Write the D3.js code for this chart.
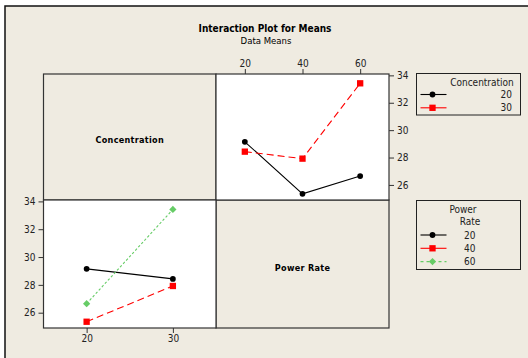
<!DOCTYPE html>
<html><head><meta charset="utf-8">
<script src="https://cdn.jsdelivr.net/npm/d3@7/dist/d3.min.js"></script>
<style>body{margin:0;background:#fff}svg{display:block}</style>
</head><body><svg id="c" width="528" height="358"></svg>
<script>
// ---- data ----
const concentration = [20, 30];
const powerRate = [20, 40, 60];
// cell means: rows = concentration, columns = power rate
const meansConc20 = [29.15, 25.35, 26.65];
const meansConc30 = [28.43, 27.92, 33.42];
const yTicks = [26, 28, 30, 32, 34];
const title = "Interaction Plot for Means";
const subtitle = "Data Means";

const means = [meansConc20, meansConc30];
const BG = "#efebe1", FONT = "'DejaVu Sans Condensed','DejaVu Sans',sans-serif";
const concStyle = [
  {color:"#000", dash:null, shape:"circle"},
  {color:"#ff0000", dash:"7,4", shape:"square"}];
const powerStyle = [
  {color:"#000", dash:null, shape:"circle"},
  {color:"#ff0000", dash:"7,4", shape:"square"},
  {color:"#66cc66", dash:"2.5,2", shape:"diamond"}];

const svg = d3.select("#c").style("font-family", FONT);
svg.append("rect").attr("x",5).attr("y",6).attr("width",540).attr("height",370)
  .attr("fill",BG).attr("stroke","#111").attr("stroke-width",1.5);

svg.append("text").attr("x",265).attr("y",32).attr("text-anchor","middle")
  .attr("font-size",10).attr("font-weight","bold").text(title);
svg.append("text").attr("x",266).attr("y",44).attr("text-anchor","middle")
  .attr("font-size",9.5).text(subtitle);

const X0=43.5, XM=216, X1=389, Y0=74, YM=200, Y1=328;

function symbol(g, shape, color, x, y){
  const t = shape==="circle"?d3.symbolCircle:d3.symbolSquare;
  const size = shape==="circle"?26:shape==="square"?40:26;
  g.append("path").attr("d", d3.symbol(t, size)())
    .attr("transform",`translate(${x},${y})` + (shape==="diamond"?" rotate(45)":""))
    .attr("fill",color);
}

// panels
function cell(x,y,w,h,fill){
  svg.append("rect").attr("x",x).attr("y",y).attr("width",w).attr("height",h)
    .attr("fill",fill).attr("stroke","#333").attr("stroke-width",1.2);
}
cell(X0,Y0,XM-X0,YM-Y0,BG);
cell(XM,YM,X1-XM,Y1-YM,BG);
cell(XM,Y0,X1-XM,YM-Y0,"#fff");
cell(X0,YM,XM-X0,Y1-YM,"#fff");
svg.append("text").attr("x",(X0+XM)/2).attr("y",(Y0+YM)/2+6).attr("text-anchor","middle")
  .attr("font-size",9).attr("font-weight","bold").attr("letter-spacing",0.3).text("Concentration");
svg.append("text").attr("x",(XM+X1)/2).attr("y",(YM+Y1)/2+7).attr("text-anchor","middle")
  .attr("font-size",9).attr("font-weight","bold").attr("letter-spacing",0.3).text("Power Rate");

const yDom = [24.9, 34.1];
// top-right: response vs power rate, lines by concentration
const xP = d3.scaleLinear().domain([10,70]).range([XM,X1]);
const yT = d3.scaleLinear().domain(yDom).range([YM,Y0]);
// bottom-left: response vs concentration, lines by power rate
const xC = d3.scaleLinear().domain([15,35]).range([X0,XM]);
const yB = d3.scaleLinear().domain(yDom).range([Y1,YM]);

function styleAxis(g){
  g.select(".domain").remove();
  g.selectAll("text").attr("font-size",10).attr("fill","#222").style("font-family",FONT);
  g.selectAll("line").attr("stroke","#333");
}
svg.append("g").attr("transform",`translate(0,${Y0})`)
  .call(d3.axisTop(xP).tickValues(powerRate).tickSize(5).tickPadding(2)).call(styleAxis);
svg.append("g").attr("transform",`translate(${X1},0)`)
  .call(d3.axisRight(yT).tickValues(yTicks).tickSize(5).tickPadding(3)).call(styleAxis);
svg.append("g").attr("transform",`translate(${X0},0)`)
  .call(d3.axisLeft(yB).tickValues(yTicks).tickSize(5).tickPadding(3)).call(styleAxis);
svg.append("g").attr("transform",`translate(0,${Y1})`)
  .call(d3.axisBottom(xC).tickValues(concentration).tickSize(5).tickPadding(2)).call(styleAxis);

const line = d3.line();
concentration.forEach((c,i)=>{
  const s = concStyle[i];
  const pts = powerRate.map((p,j)=>[xP(p), yT(means[i][j])]);
  svg.append("path").attr("d",line(pts)).attr("fill","none").attr("stroke",s.color)
    .attr("stroke-width",1.1).attr("stroke-dasharray",s.dash);
  const g = svg.append("g");
  pts.forEach(p=>symbol(g,s.shape,s.color,p[0],p[1]));
});
powerRate.forEach((p,j)=>{
  const s = powerStyle[j];
  const pts = concentration.map((c,i)=>[xC(c), yB(means[i][j])]);
  svg.append("path").attr("d",line(pts)).attr("fill","none").attr("stroke",s.color)
    .attr("stroke-width",1.1).attr("stroke-dasharray",s.dash);
  const g = svg.append("g");
  pts.forEach(q=>symbol(g,s.shape,s.color,q[0],q[1]));
});

// legends
function legend(x,y,w,h,titleLines,titleX,labels,styles,labelX,anchor,rowY0){
  const g = svg.append("g");
  g.append("rect").attr("x",x).attr("y",y).attr("width",w).attr("height",h)
    .attr("fill",BG).attr("stroke","#222").attr("stroke-width",1);
  titleLines.forEach((t,k)=>g.append("text").attr("x",titleX[k]).attr("y",y+12+k*12.5)
    .attr("text-anchor","middle").attr("font-size",10).attr("fill","#222").text(t));
  labels.forEach((l,k)=>{
    const yy = rowY0 + k*13.3;
    const s = styles[k];
    g.append("line").attr("x1",x+4).attr("x2",x+30).attr("y1",yy).attr("y2",yy)
      .attr("stroke",s.color).attr("stroke-width",1.1).attr("stroke-dasharray",k===2?"3,3":null);
    symbol(g,s.shape,s.color,x+16,yy);
    g.append("text").attr("x",labelX).attr("y",yy+3.5).attr("text-anchor",anchor)
      .attr("font-size",10).attr("fill","#222").text(l);
  });
}
legend(416.5,73.5,104,41.5,["Concentration"],[482],concentration,concStyle,512,"end",94.5);
legend(416.5,200.5,104,69,["Power","Rate"],[463,470],powerRate,powerStyle,464,"start",235);
</script></body></html>
